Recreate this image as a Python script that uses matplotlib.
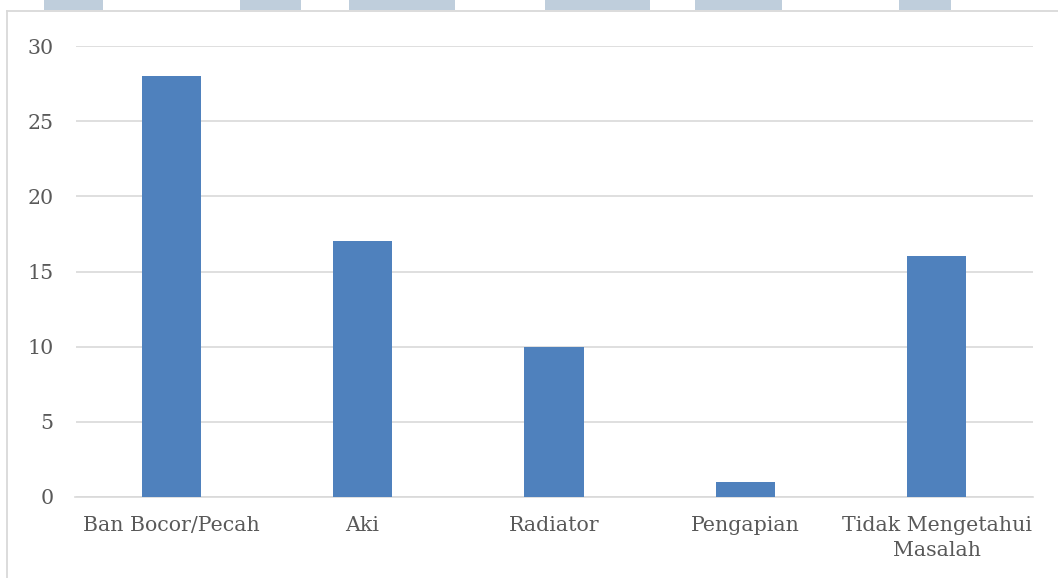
import matplotlib
matplotlib.use("Agg")
import matplotlib.pyplot as plt
from matplotlib.patches import Rectangle
from matplotlib.lines import Line2D

categories = ["Ban Bocor/Pecah", "Aki", "Radiator", "Pengapian", "Tidak Mengetahui\nMasalah"]
values = [28, 17, 10, 1, 16]
yticks = [0, 5, 10, 15, 20, 25, 30]

W, H = 1058, 578
fig = plt.figure(figsize=(W / 100, H / 100), dpi=100)
fig.patch.set_facecolor("white")

def fx(px):
    return px / W

def fy(py):
    return 1 - py / H

# page strip along the top edge
strip_color = "#bfcedc"
for x0, x1 in [(44, 103), (240, 301), (349, 455), (545, 650), (695, 782), (899, 951)]:
    fig.patches.append(Rectangle((fx(x0), fy(10)), fx(x1 - x0), 10 / H,
                                 transform=fig.transFigure, facecolor=strip_color,
                                 edgecolor="none", zorder=0))

# chart frame
frame_color = "#d9d9d9"
fig.add_artist(Line2D([fx(7), 1.0], [fy(11), fy(11)], transform=fig.transFigure,
                      color=frame_color, lw=1.3))
fig.add_artist(Line2D([fx(7), fx(7)], [fy(11), 0.0], transform=fig.transFigure,
                      color=frame_color, lw=1.3))

ax = fig.add_axes([fx(75.5), fy(497), fx(1032.5 - 75.5), (497 - 46) / H])
x = range(len(categories))
ax.bar(x, values, width=0.31, color="#4f81bd", zorder=3)

ax.set_xlim(-0.5, len(categories) - 0.5)
ax.set_ylim(0, 30)
ax.set_yticks(yticks)
ax.set_xticks(list(x))

text_color = "#595959"
font = "DejaVu Serif"
ax.set_xticklabels(categories, fontsize=14.8, family=font, color=text_color,
                   linespacing=1.4)
ax.set_yticklabels([str(v) for v in yticks], fontsize=14.8, family=font, color=text_color)

ax.tick_params(axis="both", length=0)
ax.tick_params(axis="y", pad=16)
ax.tick_params(axis="x", pad=14)

ax.grid(axis="y", color="#d9d9d9", lw=1.2, zorder=0)
for side in ["top", "right", "left"]:
    ax.spines[side].set_visible(False)
ax.spines["bottom"].set_color("#d9d9d9")
ax.spines["bottom"].set_linewidth(1.2)
ax.set_facecolor("none")

fig.savefig("out.png", dpi=100, facecolor="white")
